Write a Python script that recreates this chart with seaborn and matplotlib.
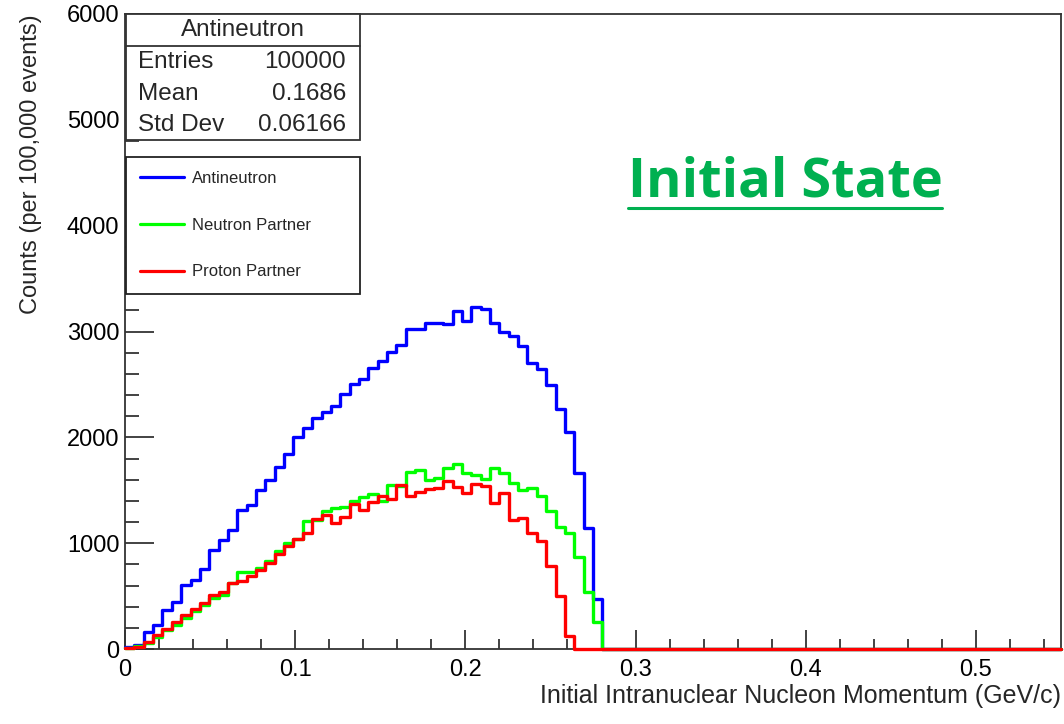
import numpy as np
import pandas as pd
import matplotlib
matplotlib.use("Agg")
import matplotlib.pyplot as plt
import matplotlib.ticker as mticker
from matplotlib.lines import Line2D
from matplotlib.patches import Rectangle
import seaborn as sns

# ---------------- data ----------------
x_min, x_max, n_bins = 0.0, 0.55, 100

antineutron = [22, 38, 164, 230, 369, 448, 606, 653, 754, 931,
               1026, 1127, 1310, 1364, 1506, 1600, 1717, 1843, 2000, 2090,
               2185, 2238, 2295, 2405, 2500, 2554, 2658, 2721, 2809, 2869,
               3027, 3021, 3084, 3084, 3068, 3194, 3100, 3235, 3216, 3084,
               3000, 2958, 2863, 2705, 2642, 2497, 2270, 2050, 1667, 1143,
               468]
neutron_partner = [7, 24, 60, 110, 180, 227, 290, 363, 417, 480,
                   511, 628, 732, 732, 764, 836, 922, 1001, 1040, 1206,
                   1222, 1300, 1332, 1340, 1400, 1435, 1463, 1395, 1545, 1540,
                   1675, 1692, 1597, 1616, 1711, 1747, 1660, 1643, 1605, 1709,
                   1660, 1572, 1506, 1520, 1443, 1300, 1150, 1096, 874, 535,
                   254]
proton_partner = [5, 20, 69, 133, 188, 254, 322, 382, 437, 511,
                  535, 625, 645, 693, 750, 815, 900, 977, 1040, 1095,
                  1225, 1269, 1190, 1245, 1368, 1316, 1390, 1446, 1414, 1553,
                  1443, 1485, 1513, 1525, 1584, 1529, 1478, 1556, 1540, 1378,
                  1470, 1217, 1237, 1096, 1016, 788, 503, 125]

series_names = ["Antineutron", "Neutron Partner", "Proton Partner"]
series_colors = ["#0000ff", "#00ff00", "#ff0000"]

x_title = "Initial Intranuclear Nucleon Momentum (GeV/c)"
y_title = "Counts (per 100,000 events)"
stats_title = "Antineutron"
stats_labels = ["Entries", "Mean", "Std Dev"]
stats_values = ["100000", "0.1686", "0.06166"]
annotation = "Initial State"

# ---------------- build table ----------------
bin_width = (x_max - x_min) / n_bins
centers = x_min + bin_width * (np.arange(n_bins) + 0.5)
rows = []
for name, vals in zip(series_names, [antineutron, neutron_partner, proton_partner]):
    full = np.zeros(n_bins)
    full[:len(vals)] = vals
    rows.append(pd.DataFrame({"p": centers, "count": full, "series": name}))
df = pd.concat(rows, ignore_index=True)

# ---------------- figure ----------------
sns.set_theme(style="ticks")
plt.rcParams["font.family"] = ["Liberation Sans", "DejaVu Sans"]

W, H = 1064, 724
fig = plt.figure(figsize=(W / 100, H / 100), dpi=100)
fig.patch.set_facecolor("white")

def fx(px):
    return px / W

def fy(py):
    return 1 - py / H

ax_l, ax_r, ax_t, ax_b = 125, 1061, 14, 649
ax = fig.add_axes([fx(ax_l), fy(ax_b), fx(ax_r) - fx(ax_l), fy(ax_t) - fy(ax_b)])

for name, col in zip(series_names, series_colors):
    sub = df[df["series"] == name]
    sns.histplot(data=sub, x="p", weights="count", bins=n_bins,
                 binrange=(x_min, x_max), element="step",
                 fill=False, color=col, linewidth=2.4, ax=ax)
for i, ln in enumerate(ax.lines):
    ln.set_clip_on(False)
    ln.set_zorder(3 + i)

ax.set_xlim(x_min, x_max)
ax.set_ylim(0, 6000)
ax.xaxis.set_major_locator(mticker.MultipleLocator(0.1))
ax.xaxis.set_minor_locator(mticker.MultipleLocator(0.02))
ax.yaxis.set_major_locator(mticker.MultipleLocator(1000))
ax.yaxis.set_minor_locator(mticker.MultipleLocator(200))
ax.xaxis.set_major_formatter(mticker.FuncFormatter(lambda v, p: f"{v:g}"))
ax.yaxis.set_major_formatter(mticker.FuncFormatter(lambda v, p: f"{v:g}"))

ax.tick_params(axis="x", which="major", direction="in", length=14, width=1.2,
               labelsize=17, pad=7, colors="#222222", labelcolor="black")
ax.tick_params(axis="x", which="minor", direction="in", length=7, width=1.2,
               colors="#222222")
ax.tick_params(axis="y", which="major", direction="in", length=21, width=1.2,
               labelsize=17, pad=4, colors="#222222", labelcolor="black")
ax.tick_params(axis="y", which="minor", direction="in", length=10, width=1.2,
               colors="#222222")
for s in ax.spines.values():
    s.set_visible(True)
    s.set_linewidth(1.3)
    s.set_color("#333333")

ax.set_xlabel(x_title, fontsize=18, loc="right", labelpad=2)
ax.set_ylabel(y_title, fontsize=17, loc="top", labelpad=18)

# legend
handles = [Line2D([0], [0], color=c, lw=2.3) for c in series_colors]
leg_top = (ax_b - 157) / (ax_b - ax_t)
leg = ax.legend(handles, series_names, loc="upper left",
                bbox_to_anchor=((126 - ax_l) / (ax_r - ax_l), leg_top - 0.1,
                                (360 - 126) / (ax_r - ax_l), 0.1),
                mode="expand", fontsize=12, frameon=True, fancybox=False,
                edgecolor="#222222", framealpha=1, handlelength=2.6,
                handletextpad=0.5, labelspacing=1.9, borderpad=0.85,
                borderaxespad=0)
leg.get_frame().set_linewidth(1.3)
leg.set_zorder(10)

# stats box
box = Rectangle((fx(126), fy(140)), fx(360) - fx(126), fy(14) - fy(140),
                transform=fig.transFigure, facecolor="white", edgecolor="#333333",
                linewidth=1.3, zorder=5)
fig.add_artist(box)
fig.add_artist(Line2D([fx(126), fx(360)], [fy(46), fy(46)], transform=fig.transFigure,
                      color="#333333", lw=1.3, zorder=6))
fig.text(fx(243), fy(30), stats_title, ha="center", va="center", fontsize=17.5, zorder=7)
for lab, val, yy in zip(stats_labels, stats_values, [62, 94, 125]):
    fig.text(fx(138), fy(yy), lab, ha="left", va="center", fontsize=17.5, zorder=7)
    fig.text(fx(346), fy(yy), val, ha="right", va="center", fontsize=17.5, zorder=7)

# annotation
fig.text(fx(785), fy(182), annotation, ha="center", va="center", fontsize=39,
         fontweight="bold", family=["Open Sans", "DejaVu Sans"], color="#00b050")
fig.add_artist(Line2D([fx(628), fx(942)], [fy(208), fy(208)], transform=fig.transFigure,
                      color="#00b050", lw=2.2))

fig.savefig("out.png", dpi=100)
